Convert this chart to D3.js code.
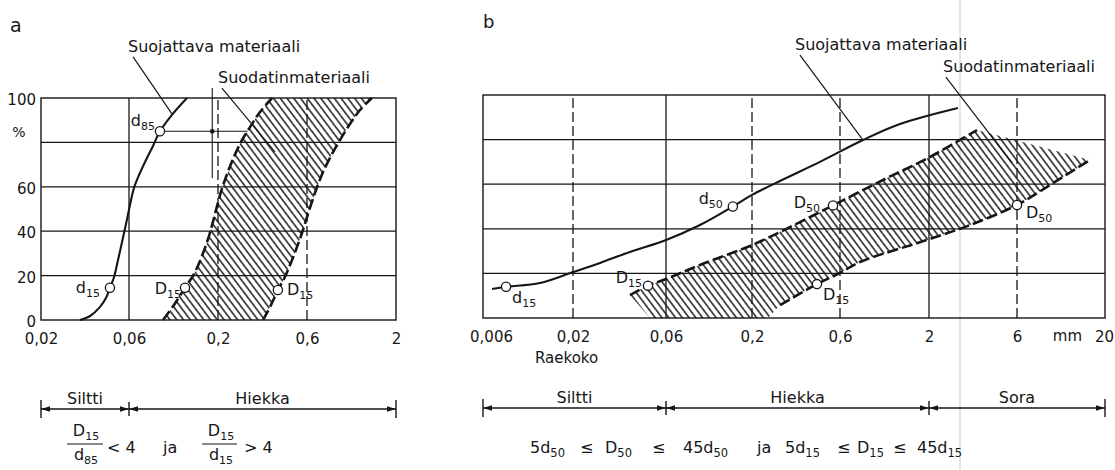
<!DOCTYPE html>
<html><head><meta charset="utf-8">
<script src="https://cdn.jsdelivr.net/npm/d3@7"></script>
<style>
body{margin:0;background:#fff;}
svg{display:block;font-family:"DejaVu Sans",sans-serif;}
</style></head><body>
<svg id="c" width="1115" height="470"></svg>
<script>
// ---------- DATA ----------
// Panel a
const ticksA = [0.02, 0.06, 0.2, 0.6, 2];
const tickLabelsA = ["0,02", "0,06", "0,2", "0,6", "2"];
const dashedGridA = [0.2, 0.6];
const solidGridA = [0.06];
const pctTicks = [0, 20, 40, 60, 100];
const pctGrid = [20, 40, 60, 80];
// Suojattava materiaali (protected soil), [mm, %]
const protA = [[0.0325,0],[0.0369,1.8],[0.0418,5.9],[0.045,9.9],[0.0473,14.5],[0.0498,19.4],[0.0523,27],[0.055,35.1],[0.0578,43.2],[0.0608,51.8],[0.0642,59.5],[0.0687,65.3],[0.0755,72.1],[0.083,78.4],[0.0912,85],[0.107,92.3],[0.1315,100]];
// Suodatinmateriaali (filter) band boundaries
const filtFineA = [[0.095,0],[0.1103,6.8],[0.128,14.5],[0.1445,20.7],[0.161,28.8],[0.177,37.8],[0.192,47.7],[0.205,56.3],[0.2208,64.4],[0.2407,72.5],[0.2657,80.2],[0.297,86.9],[0.336,93.7],[0.39,100]];
const filtCoarseA = [[0.349,0],[0.385,6.8],[0.419,13.5],[0.457,19.4],[0.511,29.3],[0.564,39.2],[0.616,49.1],[0.678,58.6],[0.755,67.6],[0.842,74.8],[0.938,81.1],[1.073,88.3],[1.229,94.6],[1.445,100]];
const d85Line = [[0.0912,85],[0.288,85]];
const d85Mark = [0.185, 85];
const d85Vert = [[0.185,104.5],[0.185,64]];
const soilBoundsA = [0.02, 0.06, 2];
const soilNamesA = ["Siltti", "Hiekka"];

// Panel b
const ticksB = [0.006, 0.02, 0.06, 0.2, 0.6, 2, 6, 20];
const tickLabelsB = ["0,006", "0,02", "0,06", "0,2", "0,6", "2", "6", "20"];
const dashedGridB = [0.02, 0.2, 0.6, 6];
const solidGridB = [0.06, 2];
const protB = [[0.00677,13],[0.00817,14],[0.01286,15.7],[0.02,20.6],[0.0275,24.7],[0.0392,29.6],[0.0601,35],[0.0966,41.7],[0.153,50],[0.2,55.2],[0.291,61.9],[0.467,70],[0.819,79.8],[1.35,87],[2.87,94.2]];
const filtFineB = [[0.0392,10.3],[0.0485,14.5],[0.06,17.5],[0.0966,23.8],[0.2,32.7],[0.364,43],[0.55,50.5],[1.073,61.9],[1.97,71.7],[3.64,84.3]];
const filtCoarseB = [[0.284,5.8],[0.45,15.2],[0.6,20.2],[0.786,25.1],[1.947,35],[3.34,41.7],[6.0,50.7],[9.82,60.5],[16.3,70.9]];
const filtBaseB = [0.244, 0.0497];
const soilBoundsB = [0.006, 0.06, 2, 20];
const soilNamesB = ["Siltti", "Hiekka", "Sora"];

// markers: [mm, %, main, sub, anchor, dx, dy]
const markersA = [[0.0473,14.5,"d","15","end",-10,5],[0.0912,85,"d","85","end",-5,-5],[0.128,14.5,"D","15","end",-4,6],[0.419,13.5,"D","15","start",9,5]];
const markersB = [[0.00817,14,"d","15","start",6,16],[0.153,50,"d","50","end",-10,-3],[0.0485,14.5,"D","15","end",-6,-3],[0.55,50.5,"D","50","end",-13,3],[0.45,15.2,"D","15","start",6,16],[6.0,50.7,"D","50","start",9,13]];
// leader lines [[mm,%],[mm,%]]
const leadersA = [[[0.0634,118.5],[0.107,93]],[[0.21,104.5],[0.404,75.7]]];
const leadersB = [[[0.364,117.9],[0.819,79.8]],[[2.47,108],[5.64,69.5]]];

// ---------- DRAW ----------
const svg = d3.select("#c");
const INK = "#161616";
svg.append("rect").attr("width",1115).attr("height",470).attr("fill","#fff");

const defs = svg.append("defs");
const pat = defs.append("pattern").attr("id","hatch").attr("patternUnits","userSpaceOnUse")
  .attr("width",5.4).attr("height",6).attr("patternTransform","rotate(-37)");
pat.append("line").attr("x1",2.7).attr("x2",2.7).attr("y1",-1).attr("y2",7).attr("stroke",INK).attr("stroke-width",1.45);

// faint scan fold line
svg.append("line").attr("x1",960).attr("x2",960).attr("y1",0).attr("y2",470)
  .attr("stroke","#c9c9c9").attr("stroke-width",1);

const xA = d3.scaleLog().domain(ticksA).range([41,129,218,307,396]);
const yA = d3.scaleLinear().domain([0,100]).range([320,98]);
const xB = d3.scaleLog().domain(ticksB).range([483,573,666,752,840,929,1017,1105]);
const yB = d3.scaleLinear().domain([0,100]).range([318,95]);

function subText(g, x, y, main, sub, anchor, size, subSize) {
  const t = g.append("text").attr("x",x).attr("y",y).attr("text-anchor",anchor||"start")
    .attr("font-size",size||16).attr("fill",INK);
  t.append("tspan").text(main);
  if (sub) t.append("tspan").attr("dy",4).attr("font-size",subSize||11).text(sub);
  return t;
}

function panel(opt) {
  const {x, y, g, ticks, labels, dashed, solid, prot, fine, coarse, markers, leaders} = opt;
  const [x0, x1] = [x(ticks[0]), x(ticks[ticks.length-1])];
  const [y0, y1] = [y(0), y(100)];
  const line = d3.line().x(d => x(d[0])).y(d => y(d[1])).curve(d3.curveCatmullRom.alpha(0.5));
  const lin = d3.line().x(d => x(d[0])).y(d => y(d[1]));

  g.selectAll(".hg").data(pctGrid).join("line")
    .attr("x1",x0).attr("x2",x1).attr("y1",d=>y(d)).attr("y2",d=>y(d))
    .attr("stroke",INK).attr("stroke-width",1.3);
  g.selectAll(".vs").data(solid).join("line")
    .attr("x1",d=>x(d)).attr("x2",d=>x(d)).attr("y1",y0).attr("y2",y1)
    .attr("stroke",INK).attr("stroke-width",1.3);
  g.selectAll(".vd").data(dashed).join("line")
    .attr("x1",d=>x(d)).attr("x2",d=>x(d)).attr("y1",y0).attr("y2",y1)
    .attr("stroke",INK).attr("stroke-width",1.3).attr("stroke-dasharray","10,4");
  g.append("rect").attr("x",x0).attr("y",y1).attr("width",x1-x0).attr("height",y0-y1)
    .attr("fill","none").attr("stroke",INK).attr("stroke-width",1.4);

  // hatched band
  let d = line(fine) + line(coarse.slice().reverse()).replace(/^M/,"L");
  if (opt.base) d += opt.base.map(v => "L" + x(v) + "," + y(0)).join("");
  d += "Z";
  g.append("path").attr("d",d).attr("fill","url(#hatch)").attr("stroke","none");
  [fine, coarse].forEach(b => g.append("path").attr("d",line(b)).attr("fill","none")
    .attr("stroke",INK).attr("stroke-width",2.6).attr("stroke-dasharray","11,4"));

  g.append("path").attr("d",line(prot)).attr("fill","none").attr("stroke",INK).attr("stroke-width",2.1);

  leaders.forEach(l => g.append("path").attr("d",lin(l)).attr("stroke",INK).attr("stroke-width",1.2).attr("fill","none"));

  if (opt.extra) opt.extra(line, lin);

  markers.forEach(m => {
    g.append("circle").attr("cx",x(m[0])).attr("cy",y(m[1])).attr("r",4.6)
      .attr("fill","#fff").attr("stroke",INK).attr("stroke-width",1.3);
    subText(g, x(m[0]) + m[5], y(m[1]) + m[6], m[2], m[3], m[4]);
  });

  const ax = d3.axisBottom(x).tickValues(ticks).tickFormat((v,i)=>labels[i]).tickSize(0).tickPadding(13);
  const axg = g.append("g").attr("transform",`translate(0,${y0})`).call(ax);
  axg.select(".domain").remove();
  axg.selectAll("text").attr("font-size",15).attr("font-family","DejaVu Sans").attr("fill",INK);
  return axg;
}

const gA = svg.append("g");
panel({x:xA, y:yA, g:gA, ticks:ticksA, labels:tickLabelsA, dashed:dashedGridA, solid:solidGridA,
  prot:protA, fine:filtFineA, coarse:filtCoarseA, markers:markersA, leaders:leadersA,
  extra:(line, lin) => {
    gA.append("path").attr("d",lin(d85Line)).attr("stroke",INK).attr("stroke-width",1.1);
    gA.append("path").attr("d",lin(d85Vert)).attr("stroke",INK).attr("stroke-width",1.1);
    gA.append("rect").attr("x",xA(d85Mark[0])-2).attr("y",yA(d85Mark[1])-2).attr("width",4).attr("height",4).attr("fill",INK);
  }});
const ayA = d3.axisLeft(yA).tickValues(pctTicks).tickFormat(d3.format("d")).tickSize(0).tickPadding(5);
const ayg = gA.append("g").attr("transform",`translate(${xA(0.02)},0)`).call(ayA);
ayg.select(".domain").remove();
ayg.selectAll("text").attr("font-size",15).attr("font-family","DejaVu Sans").attr("fill",INK).attr("dy","0.45em");
gA.append("text").attr("x",19).attr("y",yA(85)+6).attr("text-anchor","middle").attr("font-size",14).attr("fill",INK).text("%");

const gB = svg.append("g");
const axB = panel({x:xB, y:yB, g:gB, ticks:ticksB, labels:tickLabelsB, dashed:dashedGridB, solid:solidGridB,
  prot:protB, fine:filtFineB, coarse:filtCoarseB, base:filtBaseB, markers:markersB, leaders:leadersB});
axB.selectAll("text").filter((d,i)=>i===0).attr("dx",8);
axB.selectAll("text").filter((d,i)=>i===ticksB.length-1).attr("dx",-1);
gB.append("text").attr("x",1082).attr("y",yB(0)+23).attr("text-anchor","end").attr("font-size",15).attr("fill",INK).text("mm");
gB.append("text").attr("x",535).attr("y",363).attr("font-size",15).attr("fill",INK).text("Raekoko");

svg.append("text").attr("x",10).attr("y",32).attr("font-size",19).attr("fill",INK).text("a");
svg.append("text").attr("x",483).attr("y",28).attr("font-size",18).attr("fill",INK).text("b");
svg.append("text").attr("x",128).attr("y",52).attr("font-size",16).attr("fill",INK).text("Suojattava materiaali");
svg.append("text").attr("x",218).attr("y",83).attr("font-size",16).attr("fill",INK).text("Suodatinmateriaali");
svg.append("text").attr("x",795).attr("y",50).attr("font-size",16).attr("fill",INK).text("Suojattava materiaali");
svg.append("text").attr("x",943).attr("y",72).attr("font-size",16).attr("fill",INK).text("Suodatinmateriaali");

function soilBar(x, bounds, names, yLine) {
  const g = svg.append("g");
  const xs = bounds.map(b => x(b));
  g.append("line").attr("x1",xs[0]).attr("x2",xs[xs.length-1]).attr("y1",yLine).attr("y2",yLine)
    .attr("stroke",INK).attr("stroke-width",1.3);
  xs.forEach((px,i) => {
    const end = (i===0 || i===xs.length-1);
    g.append("line").attr("x1",px).attr("x2",px).attr("y1",yLine-(end?9:7)).attr("y2",yLine+(end?9:7))
      .attr("stroke",INK).attr("stroke-width",1.4);
  });
  const arrow = (tip, dir) => g.append("path")
    .attr("d",`M${tip},${yLine}L${tip-dir*9},${yLine-2.8}L${tip-dir*9},${yLine+2.8}Z`).attr("fill",INK);
  for (let i=0;i<xs.length-1;i++) {
    arrow(xs[i], -1); arrow(xs[i+1], 1);
    g.append("text").attr("x",(xs[i]+xs[i+1])/2).attr("y",yLine-5).attr("text-anchor","middle")
      .attr("font-size",16).attr("fill",INK).text(names[i]);
  }
}
soilBar(xA, soilBoundsA, soilNamesA, 409);
soilBar(xB, soilBoundsB, soilNamesB, 408);

const fa = svg.append("g");
function frac(cx, num, den, x0, x1) {
  subText(fa, cx, 436, num[0], num[1], "middle");
  fa.append("line").attr("x1",x0).attr("x2",x1).attr("y1",444).attr("y2",444).attr("stroke",INK).attr("stroke-width",1.2);
  subText(fa, cx, 460, den[0], den[1], "middle");
}
frac(86, ["D","15"], ["d","85"], 67, 103);
fa.append("text").attr("x",107).attr("y",453).attr("font-size",16).attr("fill",INK).text("< 4");
fa.append("text").attr("x",163).attr("y",453).attr("font-size",16).attr("fill",INK).text("ja");
frac(221, ["D","15"], ["d","15"], 202, 237);
fa.append("text").attr("x",244).attr("y",453).attr("font-size",16).attr("fill",INK).text("> 4");

const formulaB = [["5d","50"],["≤",""],["D","50"],["≤",""],["45d","50"],["ja",""],["5d","15"],["≤",""],["D","15"],["≤",""],["45d","15"]];
const formulaBx = [530,580,605,652,683,757,785,837,857,893,917];
const fb = svg.append("g");
formulaB.forEach((p,i) => subText(fb, formulaBx[i], 453, p[0], p[1], "start", 16, 11.5));
</script>
</body></html>
